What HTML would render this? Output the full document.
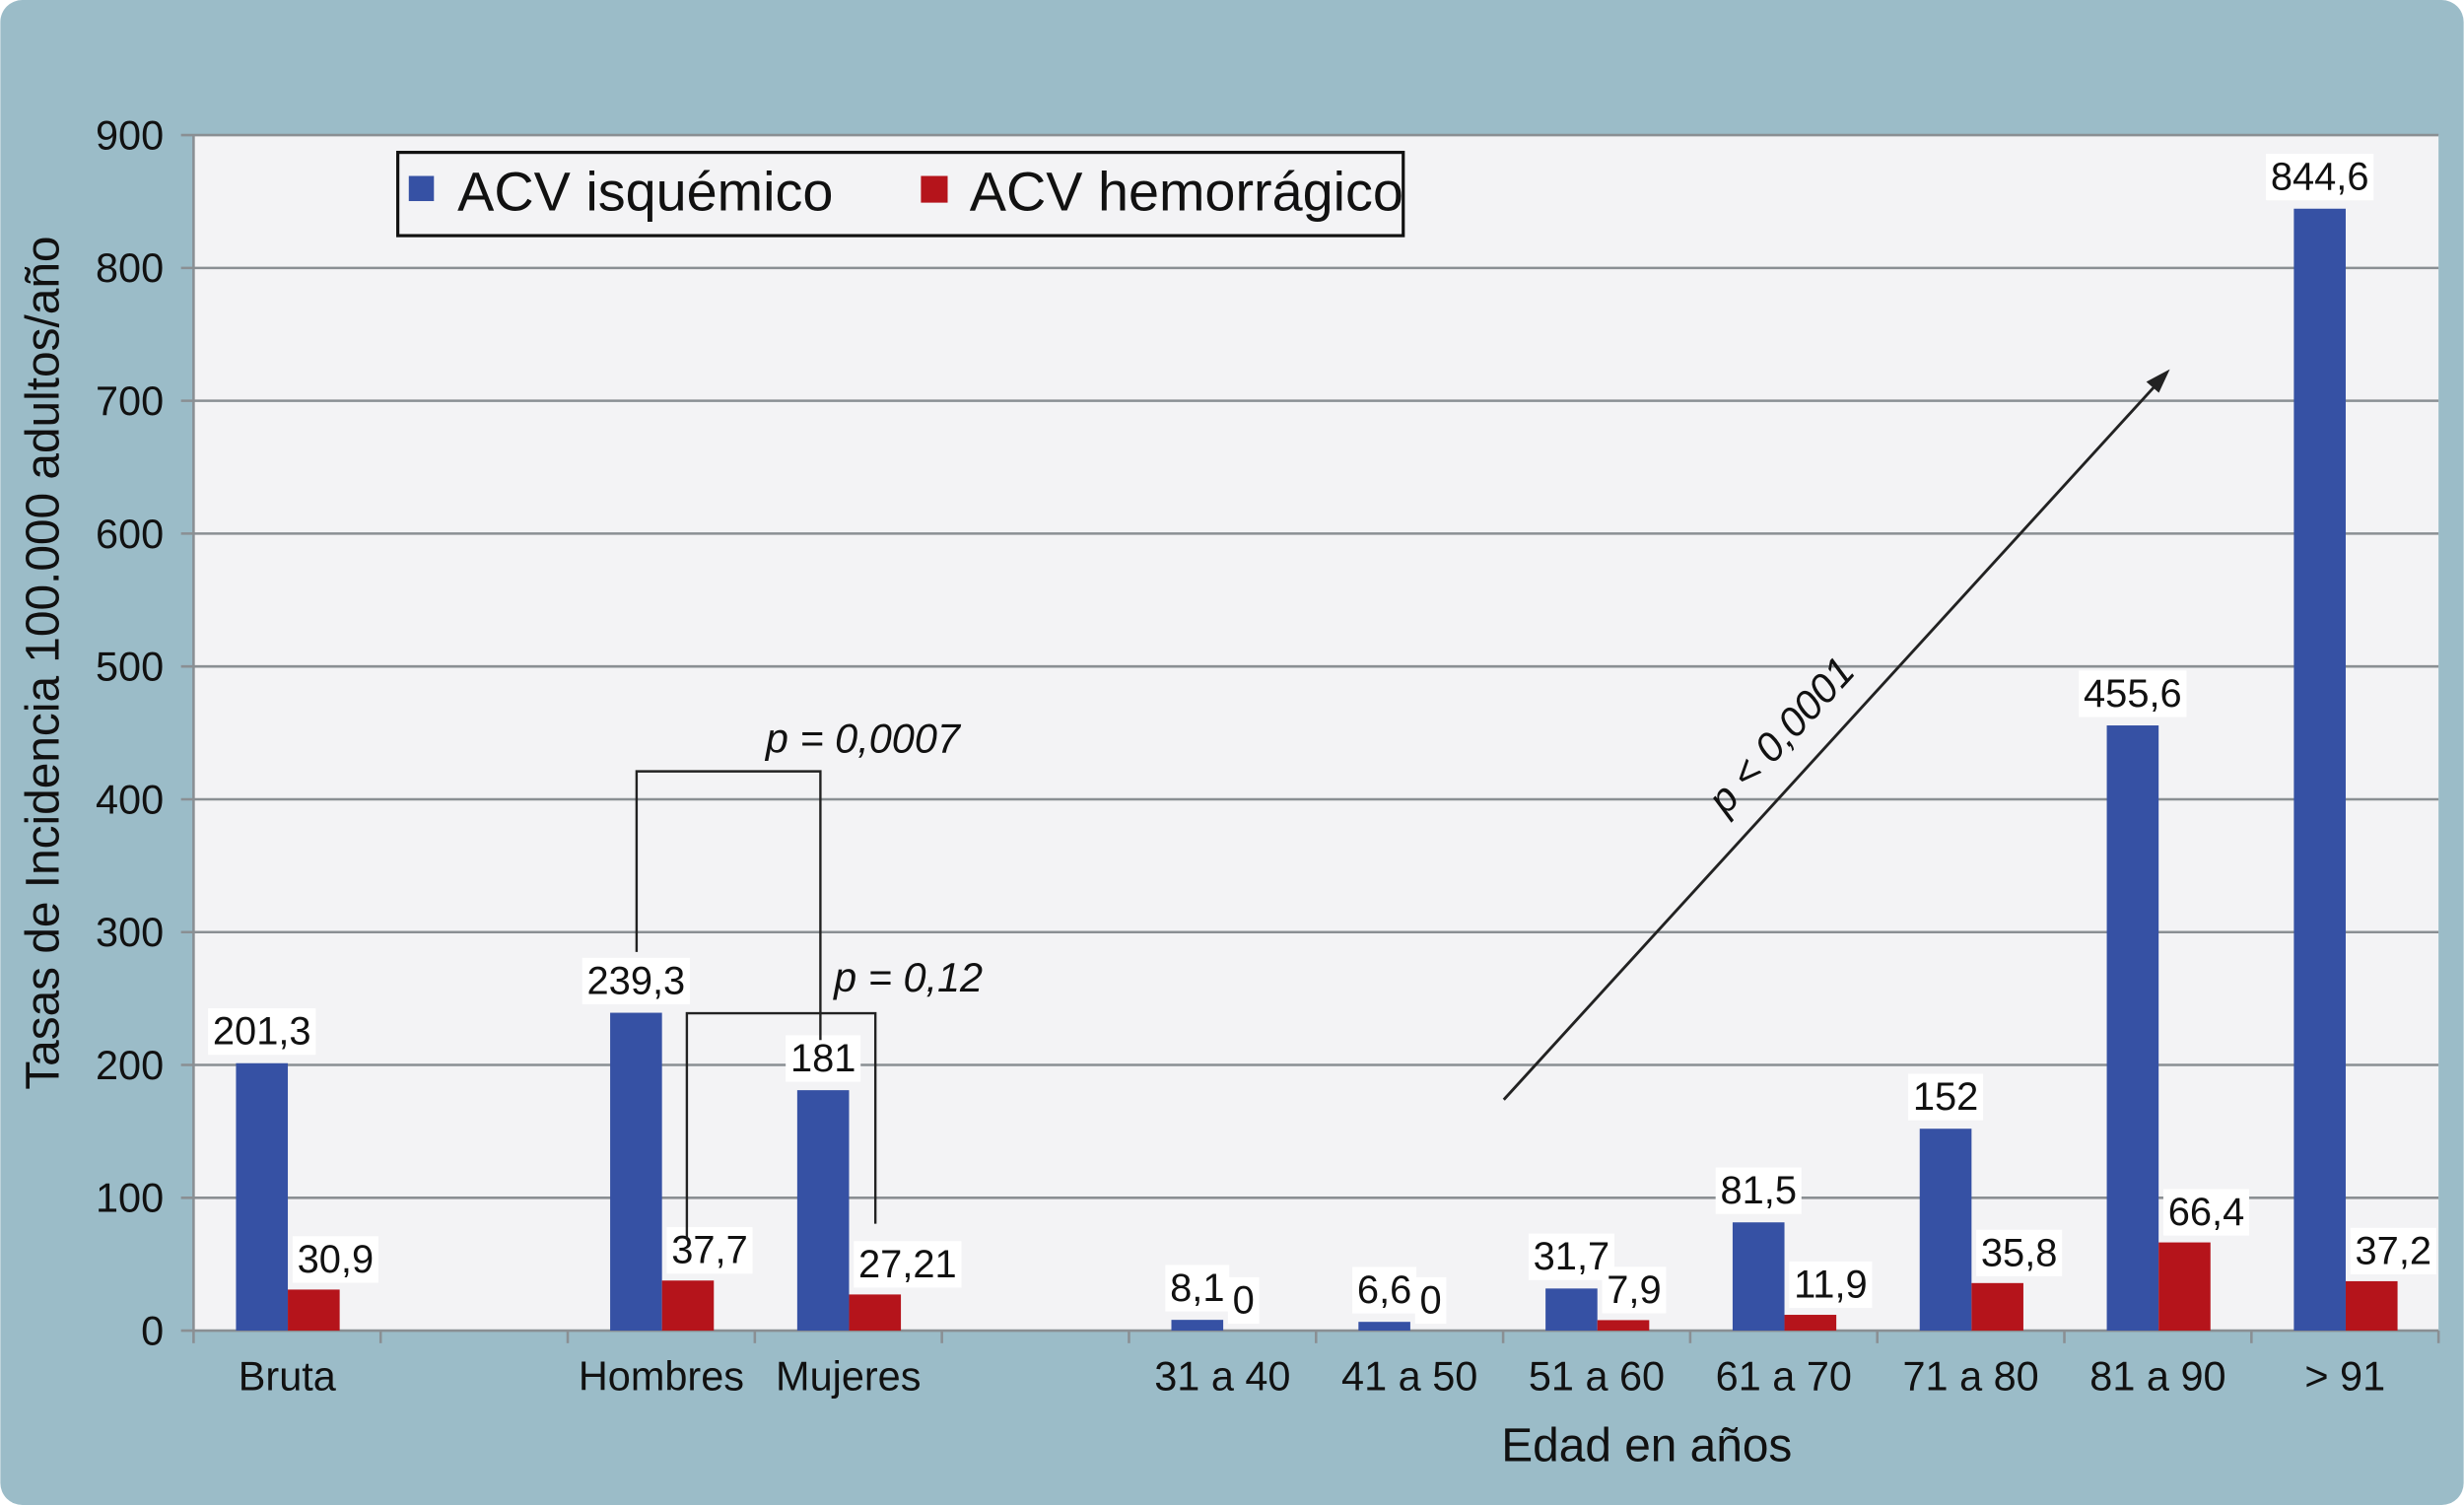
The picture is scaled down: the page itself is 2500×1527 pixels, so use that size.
<!DOCTYPE html>
<html><head><meta charset="utf-8"><style>
html,body{margin:0;padding:0;background:#fff}
svg{display:block}
text{font-family:"Liberation Sans",sans-serif;fill:#111}
</style></head><body>
<svg id="chart" width="2500" height="1527" viewBox="0 0 1568 958" xmlns="http://www.w3.org/2000/svg">
<rect x="0" y="0" width="1568" height="958" rx="14" fill="#9bbcc8"/>
<rect x="123" y="86" width="1429" height="761" fill="#f3f3f5"/>
<g id="grid"></g>
<g id="bars"></g>
<g id="labels"></g>
<g id="axes"></g>
<text transform="translate(37,422) rotate(-90)" text-anchor="middle" font-size="30">Tasas de Incidencia 100.000 adultos/año</text>
<text x="1048" y="930" text-anchor="middle" font-size="30">Edad en años</text>
<g>
<rect x="253" y="97" width="640" height="53" fill="#f3f3f5" stroke="#111" stroke-width="2"/>
<rect x="260" y="112" width="16" height="16" fill="#3651a4"/>
<text x="291" y="134" font-size="35">ACV isquémico</text>
<rect x="586" y="112" width="17" height="17" fill="#b5141b"/>
<text x="617" y="134" font-size="35">ACV hemorrágico</text>
</g>
<g fill="none" stroke="#222" stroke-width="1.5">
<polyline points="405,606 405,491 522,491 522,662"/>
</g>
<text x="549" y="479" text-anchor="middle" font-size="26" font-style="italic">p = 0,0007</text>
<g fill="none" stroke="#222" stroke-width="1.5">
<polyline points="437,788 437,645 557,645 557,779"/>
</g>
<text x="578" y="631" text-anchor="middle" font-size="26" font-style="italic">p = 0,12</text>
<line x1="957" y1="700" x2="1374" y2="243" stroke="#222" stroke-width="1.8"/>
<polygon points="1381,235 1366,243 1374,250" fill="#222"/>
<text transform="translate(1140,474) rotate(-47.6)" text-anchor="middle" font-size="26" font-style="italic">p &lt; 0,0001</text>
</svg>
<script>
const categories = ["Bruta","","Hombres","Mujeres","","31 a 40","41 a 50","51 a 60","61 a 70","71 a 80","81 a 90","> 91"];
const isquemico = [201.3,null,239.3,181,null,8.1,6.6,31.7,81.5,152,455.6,844.6];
const hemorragico = [30.9,null,37.7,27.21,null,0,0,7.9,11.9,35.8,66.4,37.2];
const isqLabels = ["201,3","","239,3","181","","8,1","6,6","31,7","81,5","152","455,6","844,6"];
const hemLabels = ["30,9","","37,7","27,21","","0","0","7,9","11,9","35,8","66,4","37,2"];
const yTicks = [0,100,200,300,400,500,600,700,800,900];

const NS="http://www.w3.org/2000/svg";
const X0=123,X1=1552,Y0=847,YT=86,YMAX=900;
const slotW=(X1-X0)/categories.length, barW=33;
function y(v){return Y0-v*(Y0-YT)/YMAX;}
function slot(i){return X0+i*slotW;}
function mk(tag,attrs,parent){const e=document.createElementNS(NS,tag);for(const k in attrs)e.setAttribute(k,attrs[k]);parent.appendChild(e);return e;}
const grid=document.getElementById('grid'),bars=document.getElementById('bars'),labels=document.getElementById('labels'),axes=document.getElementById('axes');

yTicks.forEach(t=>{
  const l=mk('line',{x1:X0-8,x2:X1,y1:y(t),y2:y(t),stroke:'#8a8f93','stroke-width':1.6},grid);
  
  
  const tx=mk('text',{x:X0-19,y:y(t)+9,'text-anchor':'end','font-size':26},axes);
  tx.textContent=t;
  
  
});
const ya=mk('line',{x1:X0,x2:X0,y1:YT,y2:Y0,stroke:'#8a8f93','stroke-width':1.6},axes);


for(let i=0;i<=categories.length;i++){
  const tk=mk('line',{x1:slot(i),x2:slot(i),y1:Y0,y2:Y0+8,stroke:'#8a8f93','stroke-width':1.6},axes);
  
  
}
function labelWithBg(str,x,yy,anchor,name){
  const t=mk('text',{x:x,y:yy,'text-anchor':anchor,'font-size':25},labels);
  t.textContent=str;
  
  
  const b=t.getBBox();
  const r=document.createElementNS(NS,'rect');
  r.setAttribute('x',b.x-3);r.setAttribute('y',b.y-1);r.setAttribute('width',b.width+6);r.setAttribute('height',b.height+2);r.setAttribute('fill','#fff');
  
  
  labels.insertBefore(r,t);
}
categories.forEach((c,i)=>{
  const s=slot(i);
  if(c){
    const ct=mk('text',{x:s+slotW/2,y:Y0+38,'text-anchor':'middle','font-size':26},axes);
    ct.textContent=c;
    
    
  }
  if(isquemico[i]!==null){
    const bx=s+27;
    const b=mk('rect',{x:bx,y:y(isquemico[i]),width:barW,height:Y0-y(isquemico[i]),fill:'#3651a4'},bars);
    
    
    labelWithBg(isqLabels[i],bx+barW/2,y(isquemico[i])-12,'middle','value-label-isquemico');
  }
  if(hemorragico[i]!==null){
    const rx=s+27+barW;
    const b=mk('rect',{x:rx,y:y(hemorragico[i]),width:barW,height:Y0-y(hemorragico[i]),fill:'#b5141b'},bars);
    
    
    labelWithBg(hemLabels[i],rx+6,y(hemorragico[i])-11,'start','value-label-hemorragico');
  }
});
</script>
</body></html>
